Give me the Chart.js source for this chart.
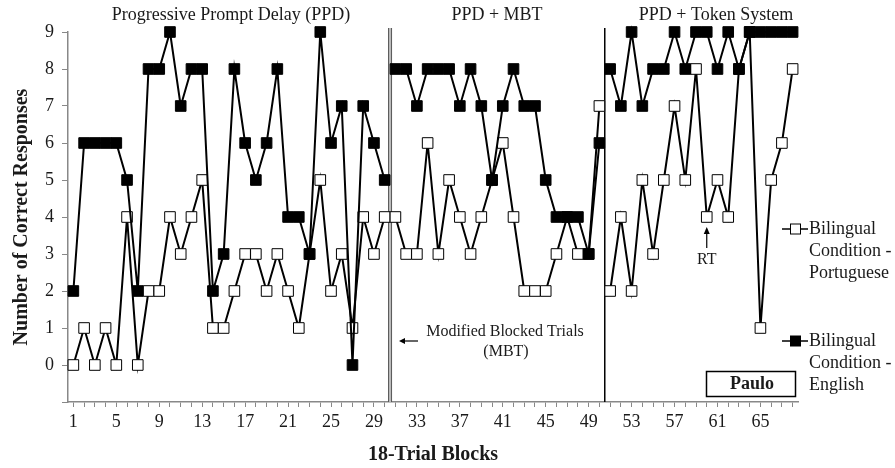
<!DOCTYPE html>
<html>
<head>
<meta charset="utf-8">
<script src="https://cdn.jsdelivr.net/npm/chart.js@4/dist/chart.umd.min.js"></script>
<style>
  html, body { margin: 0; padding: 0; background: #fff; }
  #wrap { width: 895px; height: 468px; position: relative; }
</style>
</head>
<body>
<div id="wrap"><canvas id="chart"></canvas></div>
<script>
// Блоки по 18 проб
const blocks = Array.from({length: 68}, (_, i) => String(i + 1));
const yTicks = [0, 1, 2, 3, 4, 5, 6, 7, 8, 9];

// Португальский (белые квадраты)
const portuguese = [
  0, 1, 0, 1, 0, 4, 0, 2, 2, 4, 3, 4, 5, 1, 1, 2, 3, 3, 2, 3, 2, 1, 3, 5, 2, 3, 1, 4, 3, 4,
  4, 3, 3, 6, 3, 5, 4, 3, 4, 5, 6, 4, 2, 2, 2, 3, 4, 3, 3, 7,
  2, 4, 2, 5, 3, 5, 7, 5, 8, 4, 5, 4, 8, 9, 1, 5, 6, 8
];
// Английский (чёрные квадраты)
const english = [
  2, 6, 6, 6, 6, 5, 2, 8, 8, 9, 7, 8, 8, 2, 3, 8, 6, 5, 6, 8, 4, 4, 3, 9, 6, 7, 0, 7, 6, 5,
  8, 8, 7, 8, 8, 8, 7, 8, 7, 5, 7, 8, 7, 7, 5, 4, 4, 4, 3, 6,
  8, 7, 9, 7, 8, 8, 9, 8, 9, 9, 8, 9, 8, 9, 9, 9, 9, 9
];

// Фазы: последний индекс каждой фазы (линия не соединяется через границу)
const phaseEnds = [29, 49];
const phases = [
  { name: 'Progressive Prompt Delay (PPD)', center: 231 },
  { name: 'PPD + MBT', center: 497 },
  { name: 'PPD + Token System', center: 716 }
];

const serif = '"Liberation Serif", "DejaVu Serif", serif';
const ink = '#1a1a1a';

const segBreak = ctx => phaseEnds.includes(ctx.p0DataIndex) ? 'transparent' : '#000';

// Подписи, разделители фаз и легенда
const extras = {
  id: 'extras',
  beforeDatasetsDraw(chart) {
    const c = chart.ctx;
    const x = chart.scales.x;
    const top = chart.chartArea.top, bottom = chart.chartArea.bottom;
    c.save();
    // разделители фаз
    const b1 = (x.getPixelForValue(29) + x.getPixelForValue(30)) / 2;
    const b2 = (x.getPixelForValue(49) + x.getPixelForValue(50)) / 2;
    c.strokeStyle = '#555';
    c.lineWidth = 1;
    c.fillStyle = '#bbb';
    c.fillRect(b1 - 1, top - 4, 2, bottom - top + 4);
    c.beginPath();
    c.moveTo(b1 - 1.5, top - 4); c.lineTo(b1 - 1.5, bottom);
    c.moveTo(b1 + 1.5, top - 4); c.lineTo(b1 + 1.5, bottom);
    c.stroke();
    c.strokeStyle = '#000';
    c.lineWidth = 1.5;
    c.beginPath();
    c.moveTo(b2, top - 4); c.lineTo(b2, bottom);
    c.stroke();
    c.restore();
  },
  afterDatasetsDraw(chart) {
    const c = chart.ctx;
    const x = chart.scales.x;
    c.save();

    // заголовки фаз
    c.fillStyle = ink;
    c.font = '18px ' + serif;
    c.textAlign = 'center';
    c.textBaseline = 'middle';
    phases.forEach(p => c.fillText(p.name, p.center, 15));

    // MBT
    c.font = '16px ' + serif;
    c.fillText('Modified Blocked Trials', 505, 332);
    c.fillText('(MBT)', 506, 352);
    c.lineWidth = 1.2;
    c.strokeStyle = '#000';
    c.beginPath();
    c.moveTo(418, 341); c.lineTo(402, 341);
    c.stroke();
    c.beginPath();
    c.moveTo(399, 341); c.lineTo(405, 338); c.lineTo(405, 344); c.closePath();
    c.fillStyle = '#000';
    c.fill();

    // RT
    const rx = x.getPixelForValue(59);
    c.fillStyle = ink;
    c.fillText('RT', rx, 260);
    c.beginPath();
    c.moveTo(rx, 248); c.lineTo(rx, 232);
    c.stroke();
    c.beginPath();
    c.moveTo(rx, 227); c.lineTo(rx - 3, 234); c.lineTo(rx + 3, 234); c.closePath();
    c.fillStyle = '#000';
    c.fill();

    // Paulo
    c.lineWidth = 1.5;
    c.strokeRect(706.5, 371.5, 89, 25);
    c.fillStyle = ink;
    c.font = 'bold 18px ' + serif;
    c.fillText('Paulo', 752, 384);

    // легенда
    const items = [
      { lines: ['Bilingual', 'Condition -', 'Portuguese'], fill: '#fff', y: 229 },
      { lines: ['Bilingual', 'Condition -', 'English'], fill: '#000', y: 341 }
    ];
    items.forEach(it => {
      c.strokeStyle = '#000';
      c.lineWidth = 1.5;
      c.beginPath();
      c.moveTo(782, it.y); c.lineTo(808, it.y);
      c.stroke();
      c.fillStyle = it.fill;
      c.fillRect(790.5, it.y - 5, 10, 10);
      c.lineWidth = 1;
      c.strokeRect(790.5, it.y - 5, 10, 10);
      c.fillStyle = ink;
      c.font = '18px ' + serif;
      c.textAlign = 'left';
      it.lines.forEach((t, i) => c.fillText(t, 809, it.y + i * 22));
    });
    c.restore();
  }
};

new Chart(document.getElementById('chart'), {
  type: 'line',
  data: {
    labels: blocks,
    datasets: [
      {
        label: 'Bilingual Condition - Portuguese',
        data: portuguese,
        order: 1,
        clip: false,
        borderColor: '#000',
        borderWidth: 2,
        pointStyle: 'rect',
        pointRadius: 7.5,
        pointBorderWidth: 1,
        pointBorderColor: '#000',
        pointBackgroundColor: '#fff',
        tension: 0,
        segment: { borderColor: segBreak }
      },
      {
        label: 'Bilingual Condition - English',
        data: english,
        order: 0,
        clip: false,
        borderColor: '#000',
        borderWidth: 2,
        pointStyle: 'rect',
        pointRadius: 7.5,
        pointBorderWidth: 1,
        pointBorderColor: '#000',
        pointBackgroundColor: '#000',
        tension: 0,
        segment: { borderColor: segBreak }
      }
    ]
  },
  options: {
    responsive: true,
    maintainAspectRatio: false,
    animation: false,
    layout: { padding: { left: 0, top: 32, right: 97, bottom: 0 } },
    plugins: {
      legend: { display: false },
      tooltip: { enabled: false }
    },
    scales: {
      x: {
        offset: true,
        afterFit: s => { s.height = 66; },
        grid: {
          offset: false,
          drawOnChartArea: false,
          drawTicks: true,
          tickLength: 5,
          color: '#888'
        },
        border: { color: '#888', width: 1.5 },
        ticks: {
          autoSkip: false,
          maxRotation: 0,
          minRotation: 0,
          padding: 4,
          color: ink,
          font: { family: serif, size: 18 },
          callback: (v, i) => i % 4 === 0 ? blocks[i] : ''
        },
        title: {
          display: true,
          text: '18-Trial Blocks',
          color: ink,
          font: { family: serif, size: 20, weight: 'bold' },
          padding: { top: 0, bottom: 1 }
        }
      },
      y: {
        min: -1,
        max: 9,
        afterFit: s => { s.width = 68; },
        afterBuildTicks: s => { s.ticks = [-1].concat(yTicks).map(v => ({ value: v })); },
        grid: {
          drawOnChartArea: false,
          drawTicks: true,
          tickLength: 6,
          color: '#888'
        },
        border: { color: '#888', width: 1.5 },
        ticks: {
          padding: 8,
          color: ink,
          font: { family: serif, size: 18 },
          callback: v => v < 0 ? '' : String(v)
        },
        title: {
          display: true,
          text: 'Number of Correct Responses',
          color: ink,
          font: { family: serif, size: 20, weight: 'bold' },
          padding: { top: 10, bottom: 0 }
        }
      }
    }
  },
  plugins: [extras]
});
</script>
</body>
</html>
